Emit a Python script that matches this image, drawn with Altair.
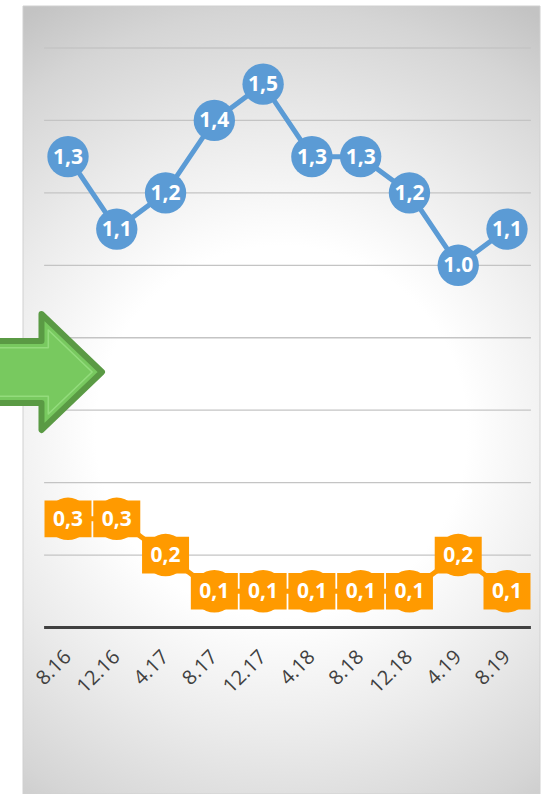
import altair as alt
import pandas as pd

categories = ["8.16", "12.16", "4.17", "8.17", "12.17", "4.18", "8.18", "12.18", "4.19", "8.19"]
blue_values = [1.3, 1.1, 1.2, 1.4, 1.5, 1.3, 1.3, 1.2, 1.0, 1.1]
blue_labels = ["1,3", "1,1", "1,2", "1,4", "1,5", "1,3", "1,3", "1,2", "1.0", "1,1"]
orange_values = [0.3, 0.3, 0.2, 0.1, 0.1, 0.1, 0.1, 0.1, 0.2, 0.1]
orange_labels = ["0,3", "0,3", "0,2", "0,1", "0,1", "0,1", "0,1", "0,1", "0,2", "0,1"]
grid_values = [0.2, 0.4, 0.6, 0.8, 1.0, 1.2, 1.4, 1.6]

W, H = 517, 788
BLUE = "#5b9bd5"
ORANGE = "#ff9a00"

df = pd.DataFrame({
    "idx": list(range(len(categories))),
    "cat": categories,
    "blue": blue_values,
    "blue_lbl": blue_labels,
    "orange": orange_values,
    "orange_lbl": orange_labels,
})

xs = alt.Scale(domain=[-0.9225, 9.6765], nice=False, zero=False)
ys = alt.Scale(domain=[-0.4597, 1.7159], nice=False, zero=False)
X = alt.X("idx:Q", scale=xs, axis=None)

one = pd.DataFrame({"a": [0]})

grad = alt.RadialGradient(
    gradient="radial",
    stops=[
        alt.GradientStop(color="#ffffff", offset=0.0),
        alt.GradientStop(color="#ffffff", offset=0.38),
        alt.GradientStop(color="#ebebeb", offset=0.62),
        alt.GradientStop(color="#d5d5d5", offset=0.86),
        alt.GradientStop(color="#c3c3c3", offset=1.0),
    ],
    x1=0.5, y1=0.54, r1=0, x2=0.5, y2=0.54, r2=0.62,
)

bg = alt.Chart(one).mark_rect(fill=grad, stroke="#d0d0d0", strokeWidth=1).encode(
    x=alt.value(0), x2=alt.value(W), y=alt.value(0), y2=alt.value(H)
)

grid_df = pd.DataFrame({"v": grid_values, "x0": [-0.49] * len(grid_values), "x1": [9.49] * len(grid_values)})
grid = alt.Chart(grid_df).mark_rule(color="#c4c4c4", strokeWidth=1.3).encode(
    x=alt.X("x0:Q", scale=xs, axis=None), x2="x1:Q",
    y=alt.Y("v:Q", scale=ys, axis=None),
)

base_df = pd.DataFrame({"v": [0.0], "x0": [-0.49], "x1": [9.49]})
baseline = alt.Chart(base_df).mark_rule(color="#404040", strokeWidth=3).encode(
    x=alt.X("x0:Q", scale=xs, axis=None), x2="x1:Q",
    y=alt.Y("v:Q", scale=ys, axis=None),
)

c = alt.Chart(df)
YB = alt.Y("blue:Q", scale=ys, axis=None)
YO = alt.Y("orange:Q", scale=ys, axis=None)

o_line = c.mark_line(color=ORANGE, strokeWidth=5).encode(x=X, y=YO)
o_circ = c.mark_circle(size=1810, color=ORANGE, opacity=1).encode(x=X, y=YO)
o_box = c.mark_point(
    shape="M-1,-0.78L1,-0.78L1,0.78L-1,0.78Z", size=2209, filled=True,
    fill=ORANGE, opacity=1, strokeWidth=0,
).encode(x=X, y=YO)
o_txt = c.mark_text(color="white", font="Open Sans", fontWeight="bold", fontSize=21,
                    align="center", baseline="middle", dy=1).encode(x=X, y=YO, text="orange_lbl:N")

b_line = c.mark_line(color=BLUE, strokeWidth=5).encode(x=X, y=YB)
b_circ = c.mark_circle(size=1710, color=BLUE, opacity=1).encode(x=X, y=YB)
b_txt = c.mark_text(color="white", font="Open Sans", fontWeight="bold", fontSize=21,
                    align="center", baseline="middle", dy=1).encode(x=X, y=YB, text="blue_lbl:N")

x_lbl = c.mark_text(angle=315, align="right", baseline="middle", font="Open Sans",
                    fontSize=20, color="#404040").encode(x=X, y=alt.value(648), text="cat:N")

arrow_outer = "M-1.3,-0.5L0.024,-0.5L0.024,-0.935L1,0L0.024,0.935L0.024,0.5L-1.3,0.5Z"
arrow_inner = "M-1.3,-0.39L0.134,-0.39L0.134,-0.677L0.841,0L0.134,0.677L0.134,0.39L-1.3,0.39Z"
arrow = alt.Chart(one).mark_point(
    shape=arrow_outer, size=15376, filled=True, fill="#78c95f", stroke="#5a9a44",
    strokeWidth=6, strokeJoin="round", opacity=1,
).encode(x=alt.value(17), y=alt.value(366))
arrow_line = alt.Chart(one).mark_point(
    shape=arrow_inner, size=15376, filled=False, stroke="#93dc7c",
    strokeWidth=1.6, strokeJoin="round", opacity=1,
).encode(x=alt.value(17), y=alt.value(366))

chart = alt.layer(
    bg, grid, baseline, o_line, o_circ, o_box, o_txt, b_line, b_circ, b_txt, x_lbl, arrow, arrow_line
).properties(
    width=W, height=H,
    autosize=alt.AutoSizeParams(type="none"),
    padding={"left": 23, "top": 6, "right": 3, "bottom": 0},
    background="white",
).configure_view(stroke=None)

chart.save("out.html", embed_options={"renderer": "svg", "actions": False})
